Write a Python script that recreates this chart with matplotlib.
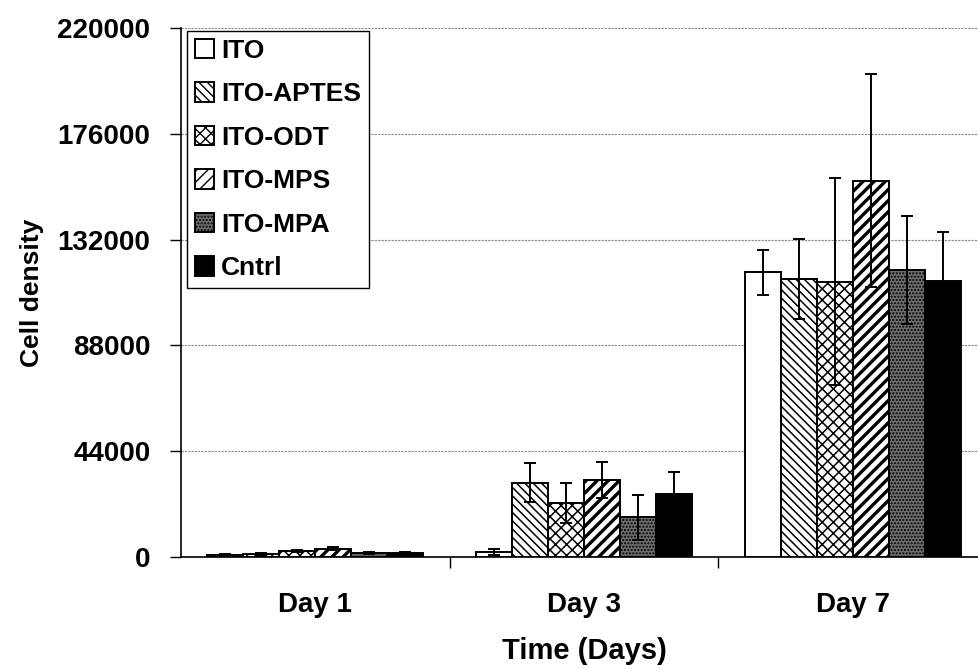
import matplotlib.pyplot as plt
import numpy as np

plt.rcParams['font.family'] = ['Liberation Sans', 'DejaVu Sans']
plt.rcParams['font.weight'] = 'bold'

days = ['Day 1', 'Day 3', 'Day 7']
series = ['ITO', 'ITO-APTES', 'ITO-ODT', 'ITO-MPS', 'ITO-MPA', 'Cntrl']

# mean cell density per day, one list per surface
ito = [1000, 2000, 118400]
aptes = [1300, 30900, 115500]
odt = [2500, 22300, 114500]
mps = [3500, 32000, 156500]
mpa = [1800, 16500, 119400]
cntrl = [1500, 26300, 114800]

# standard deviations
ito_err = [300, 1300, 9300]
aptes_err = [400, 8000, 16600]
odt_err = [600, 8300, 43000]
mps_err = [700, 7500, 44400]
mpa_err = [400, 9300, 22500]
cntrl_err = [400, 9100, 20400]

values = [ito, aptes, odt, mps, mpa, cntrl]
errors = [ito_err, aptes_err, odt_err, mps_err, mpa_err, cntrl_err]
faces = ['white', 'white', 'white', 'white', '#6e6e6e', 'black']
hatches = [None, '\\\\\\\\', 'xxx', '///', '.....', None]
hatch_lw = [1.0, 1.1, 1.1, 2.4, 1.0, 1.0]

fig = plt.figure(figsize=(9.79, 6.69), dpi=100)
ax = fig.add_axes([181 / 979, 112 / 669, 806 / 979, 529 / 669])

x = np.arange(len(days))
width = 0.134
for i, name in enumerate(series):
    with plt.rc_context({'hatch.linewidth': hatch_lw[i]}):
        ax.bar(x + (i - 2.5) * width, values[i], width, color=faces[i],
               edgecolor='black', linewidth=1.4, hatch=hatches[i], label=name,
               yerr=errors[i], error_kw=dict(ecolor='black', elinewidth=1.4,
                                             capsize=4, capthick=1.4), zorder=3)

ax.set_xlim(-0.5, 2.5)
ax.set_ylim(0, 220000)
ax.set_yticks(np.arange(0, 220001, 44000))
ax.set_xticks(x)
ax.set_xticklabels(days, fontsize=20, fontweight='bold')
ax.set_xticks([0.5, 1.5, 2.5], minor=True)
ax.tick_params(axis='x', which='major', length=0, pad=25)
ax.tick_params(axis='x', which='minor', length=8, width=1, color='black')
ax.tick_params(axis='y', length=8, width=1, pad=14, labelsize=20)
for lab in ax.get_yticklabels():
    lab.set_fontweight('bold')

ax.yaxis.grid(True, linestyle=(0, (2, 1)), color='#888888', linewidth=0.8, zorder=0)
ax.set_axisbelow(True)
for s in ['top', 'right']:
    ax.spines[s].set_visible(False)
ax.spines['left'].set_linewidth(1.2)
ax.spines['bottom'].set_linewidth(1.2)

ax.set_ylabel('Cell density', fontsize=19, fontweight='bold', labelpad=10)
ax.set_xlabel('Time (Days)', fontsize=21, fontweight='bold', labelpad=14)

leg = ax.legend(loc='upper left', bbox_to_anchor=(0.007, 0.995), borderaxespad=0,
                fontsize=19, handlelength=0.75, handleheight=0.75, handletextpad=0.25,
                labelspacing=0.74, fancybox=False, framealpha=1, borderpad=0.3)
leg.get_frame().set_edgecolor('black')
leg.get_frame().set_linewidth(1)

plt.savefig('out.png', dpi=100)
